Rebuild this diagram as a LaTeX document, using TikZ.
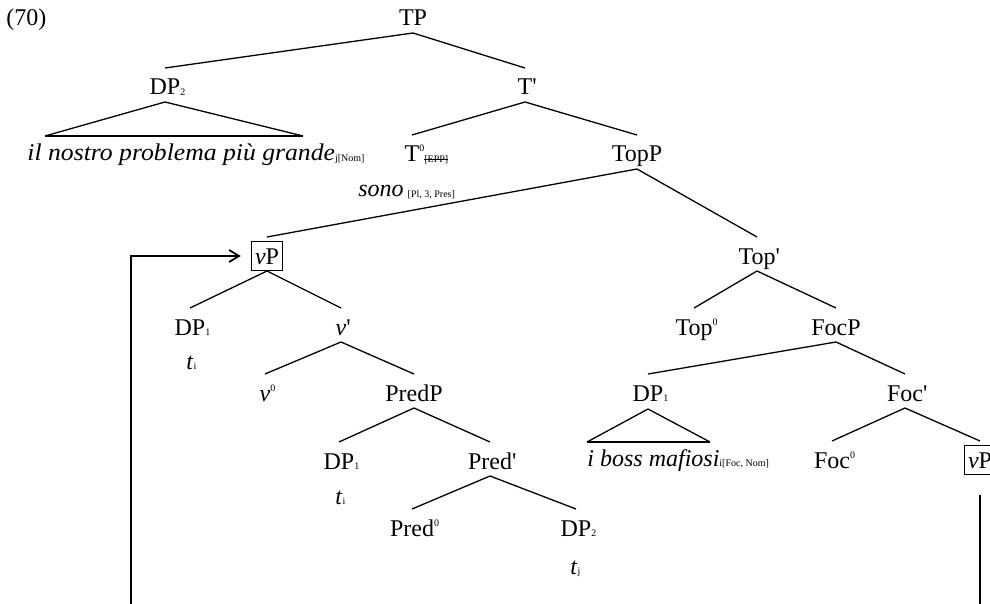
\documentclass[tikz,border=0pt]{standalone}
\usepackage{graphicx}
\usepackage{fontspec}
\setmainfont{Liberation Serif}
\usetikzlibrary{calc,arrows.meta}
\newcommand{\mysub}[1]{\raisebox{-0.3pt}{\fontsize{5}{6}\selectfont #1}}
\newcommand{\mysup}[1]{\raisebox{5pt}{\fontsize{5}{6}\selectfont #1}}
\newcommand{\strk}[1]{\setbox0\hbox{#1}\rlap{\rule[1.4pt]{\wd0}{0.45pt}}\box0}
\newcommand{\pr}{\rlap{\textquotesingle}}
\newcommand{\br}[2]{\draw[edge] ($(#1.base)+(0,7)$) -- ($(#2.base)+(0,-27)$);}
\begin{document}
\begin{tikzpicture}[x=0.5pt,y=-0.5pt, font=\fontsize{12}{14}\selectfont,
  lbl/.style={inner sep=0pt, anchor=base},
  edge/.style={line width=0.65pt},
  movel/.style={line width=0.9pt},
  boxed/.style={draw, line width=0.6pt, anchor=base, text height=8.5pt, text depth=0.5pt, inner xsep=1.8pt, inner ysep=2.75pt}]
\clip (0,0) rectangle (990,604);
% nodes
\node[lbl, anchor=base west] (ex) at (6,26) {(70)};
\node[lbl] (TP) at (413,26) {TP};
\node[lbl] (DPtwo) at (165,95) {DP\rlap{\mysub{2}}};
\node[lbl] (Tbar) at (525,95) {T\pr};
\node[lbl] (Tzero) at (412,162) {T\rlap{\mysup{0}\mysub{\strk{[EPP]}}}};
\node[lbl] (TopP) at (637,162) {TopP};
\node[lbl, anchor=base west] (il) at (27,161) {\scalebox{1.07}[1]{\textit{il nostro problema più grande}}\mysub{j[Nom]}};
\node[lbl, anchor=base west] (sono) at (358,197) {\textit{sono}\,\mysub{[Pl, 3, Pres]}};
\node[boxed] (vP) at (267,264) {\textit{v}P};
\node[lbl] (Topbar) at (757,264) {Top\pr};
\node[lbl] (DPonea) at (190,335) {DP\rlap{\mysub{1}}};
\node[lbl] (tia) at (190,369) {\textit{t}\rlap{\mysub{i}}};
\node[lbl] (vbar) at (341,335) {\textit{v}\pr};
\node[lbl] (Topzero) at (694,335) {Top\rlap{\mysup{0}}};
\node[lbl] (FocP) at (836,335) {FocP};
\node[lbl] (vzero) at (265,401) {\textit{v}\rlap{\mysup{0}}};
\node[lbl] (PredP) at (414,401) {PredP};
\node[lbl] (DPoneb) at (648,401) {DP\rlap{\mysub{1}}};
\node[lbl] (Focbar) at (905,401) {Foc\pr};
\node[lbl] (DPonec) at (339,469) {DP\rlap{\mysub{1}}};
\node[lbl] (Predbar) at (490,469) {Pred\pr};
\node[lbl, anchor=base west] (boss) at (587,466) {\textit{i boss mafiosi}\mysub{i[Foc, Nom]}};
\node[lbl] (Foczero) at (832,468) {Foc\rlap{\mysup{0}}};
\node[boxed] (vPb) at (980,468) {\textit{v}P};
\node[lbl] (tib) at (339,504) {\textit{t}\rlap{\mysub{i}}};
\node[lbl] (Predzero) at (412,536) {Pred\rlap{\mysup{0}}};
\node[lbl] (DPtwob) at (576,536) {DP\rlap{\mysub{2}}};
\node[lbl] (tj) at (574,574) {\textit{t}\rlap{\mysub{j}}};
% branches
\br{TP}{DPtwo}
\br{TP}{Tbar}
\br{Tbar}{Tzero}
\br{Tbar}{TopP}
\br{TopP}{vP}
\br{TopP}{Topbar}
\br{vP}{DPonea}
\br{vP}{vbar}
\br{vbar}{vzero}
\br{vbar}{PredP}
\br{PredP}{DPonec}
\br{PredP}{Predbar}
\br{Predbar}{Predzero}
\br{Predbar}{DPtwob}
\br{Topbar}{Topzero}
\br{Topbar}{FocP}
\br{FocP}{DPoneb}
\br{FocP}{Focbar}
\br{Focbar}{Foczero}
\br{Focbar}{vPb}
% triangles
\coordinate (trL) at (45,136);
\coordinate (trR) at (303,136);
\draw[edge] (trL) -- ($(DPtwo.base)+(0,7)$) -- (trR);
\draw[line width=1pt] (trL) -- (trR);
\coordinate (tbL) at (587,442);
\coordinate (tbR) at (710,442);
\draw[edge] (tbL) -- ($(DPoneb.base)+(0,8)$) -- (tbR);
\draw[line width=1pt] (tbL) -- (tbR);
% movement
\coordinate (botL) at (131,604);
\coordinate (botR) at (980,604);
\draw[movel, -{Straight Barb[length=5pt,width=6pt]}] (botL) |- ($(vP.west)+(-10,0)$);
\draw[movel] (botR) -- ($(vPb.south)+(0,20)$);
\end{tikzpicture}
\end{document}
